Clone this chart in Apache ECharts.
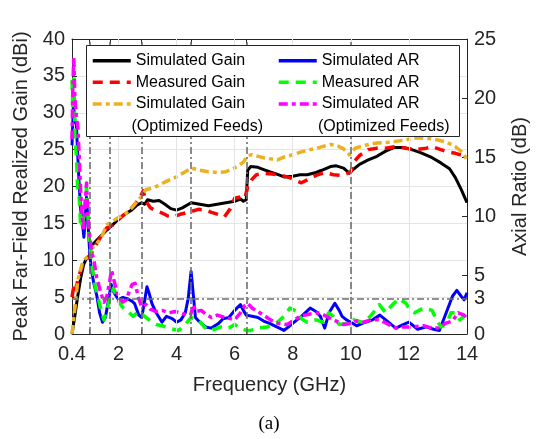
<!DOCTYPE html>
<html><head><meta charset="utf-8">
<script src="https://cdn.jsdelivr.net/npm/echarts@6/dist/echarts.min.js"></script>
<style>html,body{margin:0;padding:0;background:#fff}#c{width:538px;height:439px}</style>
</head><body><div id="c"></div>
<script>
// ---- axis ticks / reference lines ----
const xLabelTicks = [0.4, 2, 4, 6, 8, 10, 12, 14];
const markerFreqs = [1, 1.7, 2.8, 4.5, 6.4, 10];
const xGridFreqs = [2, 4, 6, 8, 10, 12];
const arTicks = [0, 3, 5, 10, 15, 20, 25];
const arLimit = 3;

// ---- Simulated Gain (dBi) ----
const simGainF = [0.4,0.5,0.6,0.7,0.8,0.9,1.0,1.05,1.1,1.2,1.3,1.4,1.5,1.6,1.8,2.0,2.2,2.45,2.65,2.8,2.9,3.0,3.2,3.4,3.6,3.8,4.0,4.2,4.5,4.8,5.1,5.4,5.7,6.0,6.2,6.3,6.4,6.45,6.55,6.8,7.0,7.2,7.5,7.7,8.0,8.25,8.5,8.8,9.0,9.3,9.5,9.75,9.95,10.05,10.3,10.6,10.9,11.2,11.5,11.8,12.1,12.4,12.8,13.1,13.4,13.6,13.8,14.0];
const simGainV = [0,2.5,5.2,7.6,9.4,10.3,10.4,11.8,12.1,12.5,12.9,13.3,13.7,14.1,14.8,15.6,16.2,16.8,17.5,17.8,17.6,18.2,18.0,18.1,17.6,17.0,16.8,17.1,17.8,17.6,17.4,17.6,17.8,18.0,18.3,18.0,18.2,22.2,22.7,22.6,22.3,22.0,21.6,21.3,21.4,21.6,21.6,21.9,22.2,22.7,22.8,22.5,21.8,22.2,23.0,23.6,24.1,24.8,25.3,25.3,25.0,24.6,23.9,23.2,22.4,21.2,19.6,17.8];

// ---- Measured Gain (dBi) ----
const measGainF = [0.4,0.45,0.5,0.55,0.65,0.75,0.85,0.95,1.05,1.15,1.3,1.45,1.6,1.8,2.0,2.2,2.4,2.6,2.75,2.85,2.95,3.1,3.3,3.5,3.7,3.9,4.1,4.3,4.5,4.75,5.0,5.2,5.45,5.65,5.85,6.0,6.2,6.35,6.45,6.6,6.75,7.0,7.3,7.6,7.9,8.1,8.3,8.5,8.8,9.1,9.4,9.7,9.9,10.0,10.1,10.3,10.6,10.9,11.2,11.55,11.9,12.2,12.6,12.8,13.1,13.35,13.6,13.85];
const measGainV = [5.0,6.2,5.5,6.5,8.0,9.2,9.8,10.4,10.8,11.6,12.6,13.6,14.4,14.8,15.5,16.2,16.8,17.8,18.6,19.4,18.0,17.1,16.7,16.4,16.0,15.9,16.2,16.4,16.6,16.9,16.8,16.5,16.2,15.9,17.0,18.4,18.6,18.4,20.0,21.0,21.6,21.8,21.7,21.5,21.2,20.8,20.5,20.9,21.5,21.9,21.6,21.5,21.8,22.0,23.3,24.2,25.0,25.2,25.2,25.4,25.2,25.0,25.2,25.4,25.0,24.7,24.5,24.2];

// ---- Simulated Gain, Optimized Feeds (dBi) ----
const optGainF = [0.4,0.5,0.6,0.7,0.77,0.85,0.95,1.05,1.2,1.4,1.6,1.8,2.0,2.27,2.5,2.78,2.95,3.2,3.4,3.7,4.0,4.3,4.52,4.8,5.1,5.4,5.7,6.1,6.3,6.45,6.6,7.0,7.47,7.7,8.0,8.3,8.6,8.85,9.1,9.3,9.55,9.75,9.95,10.15,10.5,10.9,11.3,11.7,12.0,12.3,12.7,13.0,13.3,13.6,13.85,14.0];
const optGainV = [0,3.5,7.3,8.8,9.8,10.2,10.5,11.5,12.0,13.0,14.8,15.3,15.8,16.4,17.3,18.6,19.6,19.8,20.2,20.8,21.3,22.0,22.5,22.2,22.0,21.9,22.0,22.7,23.3,24.2,24.3,23.9,23.6,24.0,24.3,24.7,25.0,25.2,25.5,25.7,25.5,25.1,24.3,25.2,25.6,25.9,26.0,26.2,26.4,26.6,26.5,26.3,26.0,25.4,24.6,23.6];

// ---- Simulated AR (dB) ----
const simArF = [0.4,0.45,0.5,0.55,0.6,0.65,0.7,0.77,0.81,0.85,0.9,0.95,1.0,1.05,1.15,1.25,1.35,1.45,1.55,1.65,1.75,1.85,2.0,2.15,2.3,2.45,2.55,2.7,2.8,2.9,2.98,3.05,3.15,3.3,3.5,3.65,3.85,4.0,4.15,4.3,4.4,4.5,4.57,4.65,4.8,5.0,5.2,5.45,5.6,5.8,6.0,6.2,6.3,6.4,6.6,6.8,7.0,7.2,7.45,7.7,7.9,8.05,8.3,8.6,8.8,8.95,9.1,9.25,9.45,9.6,9.7,9.85,10.0,10.2,10.5,10.75,11.0,11.2,11.4,11.55,11.8,12.0,12.3,12.6,12.85,13.05,13.3,13.5,13.65,13.8,13.9,14.0];
const simArV = [16.0,19.5,18.0,17.8,15.0,12.5,10.5,9.1,8.2,9.5,11.6,9.5,7.3,5.7,4.3,3.3,1.8,1.0,1.4,2.8,4.2,3.5,2.9,3.1,3.0,2.8,2.6,1.6,1.4,2.8,4.0,3.5,2.6,1.8,1.0,1.5,1.3,1.0,1.2,1.8,3.0,5.3,3.5,1.4,1.0,0.6,0.5,0.9,1.3,1.4,2.0,2.5,2.0,1.6,1.5,1.4,1.1,0.9,0.6,0.3,0.7,1.0,1.5,2.2,1.9,1.5,0.5,1.8,2.6,2.0,1.5,1.2,1.0,0.7,1.0,1.2,1.6,1.2,0.8,0.5,0.8,1.0,0.4,0.6,0.4,0.3,1.9,3.2,3.7,3.2,2.9,3.5];

// ---- Measured AR (dB) ----
const measArF = [0.4,0.43,0.47,0.5,0.55,0.6,0.65,0.7,0.78,0.85,0.9,0.95,1.0,1.1,1.2,1.3,1.4,1.5,1.6,1.7,1.83,1.95,2.1,2.24,2.37,2.5,2.7,2.85,3.05,3.3,3.5,3.73,4.07,4.3,4.5,4.75,4.95,5.09,5.3,5.53,5.8,6.0,6.2,6.4,6.55,6.8,7.13,7.3,7.47,7.7,7.9,8.15,8.3,8.5,8.8,9.07,9.24,9.4,9.6,9.85,10.1,10.4,10.6,10.77,10.98,11.2,11.4,11.65,11.9,12.05,12.2,12.5,12.8,12.95,13.1,13.3,13.45,13.6,13.75,13.9];
const measArV = [21.5,19.0,22.0,17.0,15.0,12.0,11.5,9.0,9.5,11.0,12.5,10.0,8.0,5.6,4.0,3.1,2.0,1.2,2.0,3.0,3.9,3.0,2.4,2.0,1.8,1.5,1.9,1.6,1.2,0.8,0.7,0.5,0.3,0.8,1.4,1.2,0.6,0.3,0.4,0.6,0.5,0.8,0.5,0.3,0.3,0.5,0.6,0.8,1.0,1.5,2.2,1.9,1.3,1.0,1.2,1.0,1.8,1.5,0.8,0.9,1.2,1.0,1.3,1.8,2.5,1.8,2.4,3.0,2.6,2.0,1.8,2.2,2.0,1.2,0.6,0.9,1.8,1.8,1.2,1.5];

// ---- Simulated AR, Optimized Feeds (dB) ----
const optArF = [0.4,0.43,0.46,0.5,0.55,0.6,0.65,0.7,0.75,0.8,0.85,0.9,0.95,1.0,1.07,1.15,1.25,1.39,1.5,1.6,1.7,1.76,1.85,1.95,2.05,2.15,2.27,2.37,2.47,2.57,2.7,2.8,2.95,3.1,3.29,3.5,3.73,3.95,4.17,4.35,4.48,4.58,4.65,4.85,5.0,5.2,5.4,5.67,5.85,6.0,6.2,6.35,6.45,6.6,6.79,7.0,7.23,7.5,7.81,8.0,8.25,8.6,8.93,9.15,9.4,9.75,10.0,10.2,10.43,10.7,11.0,11.3,11.55,11.8,12.1,12.5,12.8,13.0,13.25,13.5,13.7,13.9,14.0];
const optArV = [16.5,21.0,23.5,20.0,18.5,17.5,15.0,12.0,10.0,9.0,11.0,12.8,10.0,8.6,7.0,6.3,4.8,3.5,2.7,3.2,4.5,5.4,4.5,3.5,3.0,2.7,2.9,3.6,4.2,4.3,3.0,2.3,2.5,2.1,1.9,2.0,1.8,1.9,1.8,1.6,1.6,2.5,1.9,2.0,1.7,1.4,1.6,1.4,1.3,1.2,1.8,2.4,2.6,2.2,1.9,1.6,1.2,0.9,0.8,1.1,1.5,1.7,1.8,1.5,1.2,0.8,0.9,1.1,1.0,1.2,1.2,0.8,0.5,0.6,0.6,0.7,0.5,0.5,0.9,1.1,1.8,1.6,1.3];

const zip = (f, v) => f.map((x, i) => [x, v[i]]);
const FONT = '"Liberation Sans", Arial, Helvetica, sans-serif';
const AXC = '#262626';
const xTickVals = Array.from(new Set(xLabelTicks.concat(markerFreqs))).sort((a, b) => a - b);

const chart = echarts.init(document.getElementById('c'), null, {renderer: 'canvas'});

function lineSeries(name, data, color, width, dash, yIdx) {
  return {
    name: name, type: 'line', data: data, yAxisIndex: yIdx, symbol: 'none',
    showSymbol: false, smooth: false, z: 3, silent: true,
    lineStyle: {color: color, width: width, type: dash || 'solid', cap: 'butt', join: 'round'},
    itemStyle: {color: color}
  };
}

const DASH = [10, 7];
const DASHDOT = [9, 4, 4, 4];

const names = {
  sg: 'Simulated Gain', sa: 'Simulated AR', mg: 'Measured Gain', ma: 'Measured AR',
  og: 'Simulated Gain (Optimized Feeds)', oa: 'Simulated AR (Optimized Feeds)'
};

const legendRows = [60.7, 82.3, 104];
function legendAt(name, left, rowY, label) {
  return {
    show: true, left: left, top: rowY - 8, padding: 0, itemGap: 0,
    itemWidth: 38, itemHeight: 16, z: 10, selectedMode: false,
    data: [name],
    formatter: function () { return label; },
    textStyle: {fontSize: 16, color: '#000', fontFamily: FONT},
    itemStyle: {opacity: 0, borderWidth: 0},
    lineStyle: {width: 3.5}
  };
}

const option = {
  animation: false,
  backgroundColor: '#fff',
  grid: {left: 72, right: 66, top: 39, bottom: 105, containLabel: false},
  legend: [
    legendAt(names.sg, 91, legendRows[0], 'Simulated Gain'),
    legendAt(names.mg, 91, legendRows[1], 'Measured Gain'),
    legendAt(names.og, 91, legendRows[2], 'Simulated Gain'),
    legendAt(names.sa, 277, legendRows[0], 'Simulated AR'),
    legendAt(names.ma, 277, legendRows[1], 'Measured AR'),
    legendAt(names.oa, 277, legendRows[2], 'Simulated AR')
  ],
  graphic: [
    {type: 'rect', z: 8, shape: {x: 86.5, y: 45.5, width: 373, height: 91},
     style: {fill: '#fff', stroke: AXC, lineWidth: 1}},
    {type: 'text', z: 11, x: 131.5, y: 126.5,
     style: {text: '(Optimized Feeds)', fontSize: 16, fontFamily: FONT, fill: '#000', textVerticalAlign: 'middle'}},
    {type: 'text', z: 11, x: 318, y: 126.5,
     style: {text: '(Optimized Feeds)', fontSize: 16, fontFamily: FONT, fill: '#000', textVerticalAlign: 'middle'}},
    {type: 'text', z: 11, x: 269, y: 424,
     style: {text: '(a)', fontSize: 19, fontFamily: '"Liberation Serif", "Times New Roman", serif', fill: '#000', textAlign: 'center', textVerticalAlign: 'middle'}}
  ],
  xAxis: [
    {
      type: 'value', min: 0.4, max: 14, position: 'bottom',
      name: 'Frequency (GHz)', nameLocation: 'middle', nameGap: 41,
      nameTextStyle: {fontSize: 20, color: AXC, fontFamily: FONT},
      axisLine: {show: true, onZero: false, lineStyle: {color: AXC, width: 1}},
      axisTick: {show: true, inside: true, length: 5, customValues: xTickVals, lineStyle: {color: AXC}},
      axisLabel: {customValues: xLabelTicks, fontSize: 20, color: AXC, fontFamily: FONT, margin: 10,
                  formatter: function (v) { return String(v); }},
      splitLine: {show: false}
    },
    {
      type: 'value', min: 0.4, max: 14, position: 'top',
      axisLine: {show: true, onZero: false, lineStyle: {color: AXC, width: 1}},
      axisTick: {show: true, inside: true, length: 5, customValues: xTickVals, lineStyle: {color: AXC}},
      axisLabel: {show: false},
      splitLine: {show: false}
    }
  ],
  yAxis: [
    {
      type: 'value', min: 0, max: 40, interval: 5, position: 'left',
      name: 'Peak Far-Field Realized Gain (dBi)', nameLocation: 'middle', nameGap: 40, nameRotate: 90,
      nameTextStyle: {fontSize: 20, color: AXC, fontFamily: FONT},
      axisLine: {show: true, onZero: false, lineStyle: {color: AXC, width: 1}},
      axisTick: {show: true, inside: true, length: 5, lineStyle: {color: AXC}},
      axisLabel: {fontSize: 20, color: AXC, fontFamily: FONT, margin: 7},
      splitLine: {show: true, lineStyle: {color: '#e4e4e4', width: 1}}
    },
    {
      type: 'value', min: 0, max: 25, position: 'right',
      name: 'Axial Ratio (dB)', nameLocation: 'middle', nameGap: 43, nameRotate: 90,
      nameTextStyle: {fontSize: 20, color: AXC, fontFamily: FONT},
      axisLine: {show: true, onZero: false, lineStyle: {color: AXC, width: 1}},
      axisTick: {show: true, inside: true, length: 5, customValues: arTicks, lineStyle: {color: AXC}},
      axisLabel: {customValues: arTicks, fontSize: 20, color: AXC, fontFamily: FONT, margin: 7},
      splitLine: {show: false}
    }
  ],
  series: [
    {
      name: 'grid', type: 'line', data: [], z: 1, silent: true,
      markLine: {
        silent: true, symbol: 'none', label: {show: false}, animation: false,
        lineStyle: {color: '#e4e4e4', width: 1, type: 'solid'},
        data: xGridFreqs.map(v => ({xAxis: v}))
      }
    },
    {
      name: 'markers', type: 'line', data: [], z: 2, silent: true,
      markLine: {
        silent: true, symbol: 'none', label: {show: false}, animation: false,
        lineStyle: {color: '#6e6e6e', width: 1.6, type: [7, 3, 2, 3]},
        data: markerFreqs.map(v => ({xAxis: v}))
      }
    },
    {
      name: 'arlimit', type: 'line', data: [], yAxisIndex: 1, z: 2, silent: true,
      markLine: {
        silent: true, symbol: 'none', label: {show: false}, animation: false,
        lineStyle: {color: '#6e6e6e', width: 1.6, type: [7, 3, 2, 3]},
        data: [{yAxis: arLimit}]
      }
    },
    lineSeries(names.sg, zip(simGainF, simGainV), '#000000', 3, 'solid', 0),
    lineSeries(names.mg, zip(measGainF, measGainV), '#ff0000', 3.5, DASH, 0),
    lineSeries(names.og, zip(optGainF, optGainV), '#edb120', 3.5, DASHDOT, 0),
    lineSeries(names.sa, zip(simArF, simArV), '#0000ff', 3, 'solid', 1),
    lineSeries(names.ma, zip(measArF, measArV), '#00ff00', 3.5, DASH, 1),
    lineSeries(names.oa, zip(optArF, optArV), '#ff00ff', 3.5, DASHDOT, 1)
  ]
};
chart.setOption(option);
</script>
</body></html>
